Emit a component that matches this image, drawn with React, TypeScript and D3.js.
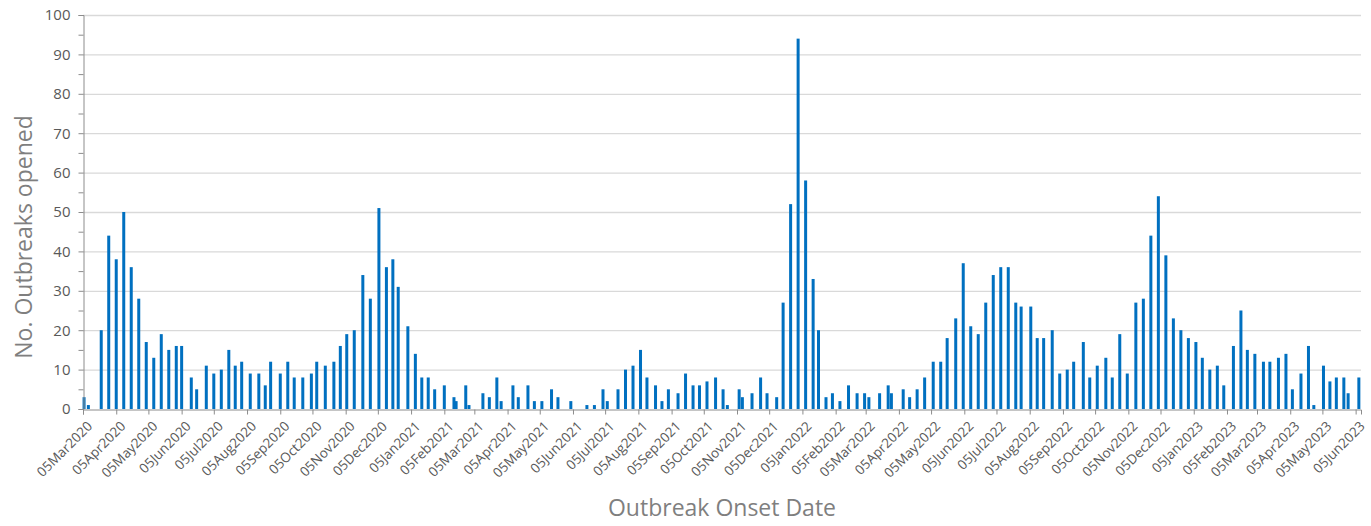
import { useEffect, useRef } from "react";
import * as d3 from "d3";

// onset dates and weekly outbreak counts
const dates2020 = [
  "2020-03-06", "2020-03-10", "2020-03-22", "2020-03-29", "2020-04-05", "2020-04-12",
  "2020-04-19", "2020-04-26", "2020-05-03", "2020-05-10", "2020-05-17", "2020-05-24",
  "2020-05-31", "2020-06-05", "2020-06-14", "2020-06-19", "2020-06-28", "2020-07-05",
  "2020-07-12", "2020-07-19", "2020-07-25", "2020-07-31", "2020-08-08", "2020-08-16",
  "2020-08-22", "2020-08-27", "2020-09-05", "2020-09-12", "2020-09-18", "2020-09-26",
  "2020-10-04", "2020-10-09", "2020-10-17", "2020-10-25", "2020-10-31", "2020-11-06",
  "2020-11-13", "2020-11-21", "2020-11-28", "2020-12-06", "2020-12-13", "2020-12-19",
  "2020-12-24",
];
const counts2020 = [
  3, 1, 20, 44, 38, 50, 36, 28, 17, 13, 19, 15, 16, 16, 8, 5, 11, 9, 10, 15, 11, 12,
  9, 9, 6, 12, 9, 12, 8, 8, 9, 12, 11, 12, 16, 19, 20, 34, 28, 51, 36, 38, 31,
];

const dates2021 = [
  "2021-01-02", "2021-01-09", "2021-01-15", "2021-01-21", "2021-01-27", "2021-02-05",
  "2021-02-14", "2021-02-16", "2021-02-25", "2021-02-28", "2021-03-13", "2021-03-19",
  "2021-03-26", "2021-03-30", "2021-04-10", "2021-04-15", "2021-04-24", "2021-04-30",
  "2021-05-07", "2021-05-16", "2021-05-22", "2021-06-03", "2021-06-18", "2021-06-25",
  "2021-07-03", "2021-07-07", "2021-07-17", "2021-07-24", "2021-07-31", "2021-08-07",
  "2021-08-13", "2021-08-21", "2021-08-27", "2021-09-02", "2021-09-11", "2021-09-18",
  "2021-09-25", "2021-10-01", "2021-10-08", "2021-10-16", "2021-10-23", "2021-10-27",
  "2021-11-07", "2021-11-10", "2021-11-19", "2021-11-27", "2021-12-03", "2021-12-12",
  "2021-12-18", "2021-12-25",
];
const counts2021 = [
  21, 14, 8, 8, 5, 6, 3, 2, 6, 1, 4, 3, 8, 2, 6, 3, 6, 2, 2, 5, 3, 2, 1, 1, 5, 2, 5,
  10, 11, 15, 8, 6, 2, 5, 4, 9, 6, 6, 7, 8, 5, 1, 5, 3, 4, 8, 4, 3, 27, 52,
];

const dates2022 = [
  "2022-01-01", "2022-01-08", "2022-01-15", "2022-01-20", "2022-01-27", "2022-02-02",
  "2022-02-09", "2022-02-17", "2022-02-25", "2022-03-04", "2022-03-08", "2022-03-18",
  "2022-03-26", "2022-03-29", "2022-04-09", "2022-04-15", "2022-04-22", "2022-04-29",
  "2022-05-07", "2022-05-14", "2022-05-20", "2022-05-28", "2022-06-04", "2022-06-11",
  "2022-06-18", "2022-06-25", "2022-07-02", "2022-07-09", "2022-07-16", "2022-07-23",
  "2022-07-28", "2022-08-06", "2022-08-12", "2022-08-18", "2022-08-26", "2022-09-02",
  "2022-09-09", "2022-09-15", "2022-09-24", "2022-09-30", "2022-10-07", "2022-10-15",
  "2022-10-21", "2022-10-28", "2022-11-04", "2022-11-12", "2022-11-19", "2022-11-26",
  "2022-12-03", "2022-12-10", "2022-12-17", "2022-12-24", "2022-12-31",
];
const counts2022 = [
  94, 58, 33, 20, 3, 4, 2, 6, 4, 4, 3, 4, 6, 4, 5, 3, 5, 8, 12, 12, 18, 23, 37, 21,
  19, 27, 34, 36, 36, 27, 26, 26, 18, 18, 20, 9, 10, 12, 17, 8, 11, 13, 8, 19, 9, 27,
  28, 44, 54, 39, 23, 20, 18,
];

const dates2023 = [
  "2023-01-07", "2023-01-13", "2023-01-20", "2023-01-27", "2023-02-02", "2023-02-11",
  "2023-02-18", "2023-02-24", "2023-03-03", "2023-03-11", "2023-03-17", "2023-03-25",
  "2023-04-01", "2023-04-07", "2023-04-15", "2023-04-22", "2023-04-27", "2023-05-06",
  "2023-05-12", "2023-05-18", "2023-05-25", "2023-05-29", "2023-06-08",
];
const counts2023 = [
  17, 13, 10, 11, 6, 16, 25, 15, 14, 12, 12, 13, 14, 5, 9, 16, 1, 11, 7, 8, 8, 4, 8,
];

const yTicks = [0, 10, 20, 30, 40, 50, 60, 70, 80, 90, 100];
const axisStart = "2020-03-05";
const axisEnd = "2023-06-10";

interface Bar {
  date: Date;
  count: number;
}

export default function App() {
  const ref = useRef<SVGSVGElement>(null);

  useEffect(() => {
    const svg = d3.select(ref.current);
    svg.selectAll("*").remove();

    const w = 1371,
      h = 526,
      m = { top: 15, right: 10, bottom: 117, left: 83 };

    const parse = d3.utcParse("%Y-%m-%d");
    const bars: Bar[] = [
      ...dates2020.map((d, i) => ({ date: parse(d)!, count: counts2020[i] })),
      ...dates2021.map((d, i) => ({ date: parse(d)!, count: counts2021[i] })),
      ...dates2022.map((d, i) => ({ date: parse(d)!, count: counts2022[i] })),
      ...dates2023.map((d, i) => ({ date: parse(d)!, count: counts2023[i] })),
    ];

    const x = d3
      .scaleUtc()
      .domain([parse(axisStart)!, parse(axisEnd)!])
      .range([m.left, w - m.right]);

    const y = d3
      .scaleLinear()
      .domain([0, 100])
      .range([h - m.bottom, m.top]);

    const font = "'Open Sans', sans-serif";
    const grey = "#595959";

    /* ── GRID ─────────────────────────────────── */
    svg
      .append("g")
      .selectAll("line")
      .data(yTicks.filter((t) => t > 0))
      .join("line")
      .attr("x1", m.left)
      .attr("x2", w - m.right)
      .attr("y1", (d) => y(d) + 0.5)
      .attr("y2", (d) => y(d) + 0.5)
      .attr("stroke", "#d9d9d9")
      .attr("stroke-width", 1.3);

    /* ── BARS ─────────────────────────────────── */
    svg
      .append("g")
      .selectAll("rect")
      .data(bars)
      .join("rect")
      .attr("x", (d) => x(d.date) - 1.5)
      .attr("width", 3)
      .attr("y", (d) => y(d.count))
      .attr("height", (d) => y(0) - y(d.count))
      .attr("fill", "#0070c0");

    /* ── AXES ─────────────────────────────────── */
    const monthTicks = d3.utcMonth
      .range(parse("2020-03-01")!, parse("2023-07-01")!)
      .map((d) => d3.utcDay.offset(d, 4));

    const xAxis = svg
      .append("g")
      .attr("transform", `translate(0,${y(0) + 0.5})`)
      .call(
        d3
          .axisBottom(x)
          .tickValues(monthTicks)
          .tickSize(5)
          .tickFormat((d) => d3.utcFormat("%d%b%Y")(d as Date))
      );
    xAxis.select(".domain").attr("stroke", "#8c8c8c");
    xAxis.selectAll(".tick line").attr("stroke", "#8c8c8c");
    xAxis
      .selectAll(".tick text")
      .attr("font-family", font)
      .attr("font-size", 13.5)
      .attr("fill", grey)
      .attr("text-anchor", "end")
      .attr("dy", 0)
      .attr("transform", "translate(4,12) rotate(-45)");

    const yAxis = svg
      .append("g")
      .attr("transform", `translate(${m.left + 0.5},0)`)
      .call(
        d3
          .axisLeft(y)
          .tickValues(d3.range(0, 101, 5))
          .tickSize(5)
          .tickFormat((d) => ((d as number) % 10 === 0 ? String(d) : ""))
      );
    yAxis.select(".domain").attr("stroke", "#8c8c8c");
    yAxis.selectAll(".tick line").attr("stroke", "#8c8c8c");
    yAxis
      .selectAll(".tick text")
      .attr("font-family", font)
      .attr("font-size", 15)
      .attr("fill", grey)
      .attr("x", -13);

    /* ── TITLES ───────────────────────────────── */
    svg
      .append("text")
      .attr("transform", `translate(32,${(y(0) + y(100)) / 2 + 25}) rotate(-90)`)
      .attr("text-anchor", "middle")
      .attr("font-family", font)
      .attr("font-size", 23)
      .attr("fill", "#7f7f7f")
      .text("No. Outbreaks opened");

    svg
      .append("text")
      .attr("x", 722)
      .attr("y", 516)
      .attr("text-anchor", "middle")
      .attr("font-family", font)
      .attr("font-size", 23)
      .attr("fill", "#7f7f7f")
      .text("Outbreak Onset Date");
  }, []);

  return (
    <svg
      ref={ref}
      width={1371}
      height={526}
      style={{ position: "absolute", left: 0, top: 0, background: "#fff" }}
    />
  );
}
